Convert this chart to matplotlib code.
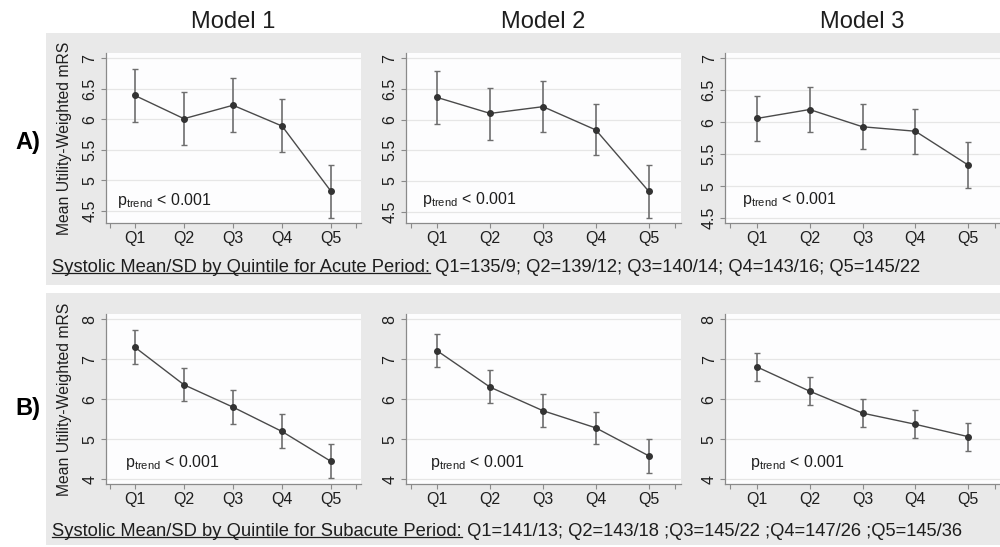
import numpy as np
import matplotlib
matplotlib.use("Agg")
import matplotlib.pyplot as plt
from matplotlib.patches import Rectangle
from matplotlib.lines import Line2D

plt.rcParams['font.family'] = ['Liberation Sans', 'DejaVu Sans']

# Data (mean and 95% CI per systolic BP quintile)
quintiles = ['Q1', 'Q2', 'Q3', 'Q4', 'Q5']
models = ['Model 1', 'Model 2', 'Model 3']

acute_m1_mean = [6.39, 6.01, 6.23, 5.89, 4.82]
acute_m1_lo = [5.95, 5.58, 5.80, 5.46, 4.39]
acute_m1_hi = [6.82, 6.44, 6.67, 6.33, 5.26]
acute_m2_mean = [6.36, 6.10, 6.21, 5.83, 4.83]
acute_m2_lo = [5.93, 5.67, 5.79, 5.42, 4.40]
acute_m2_hi = [6.79, 6.51, 6.63, 6.26, 5.26]
acute_m3_mean = [6.06, 6.20, 5.93, 5.86, 5.33]
acute_m3_lo = [5.70, 5.85, 5.58, 5.51, 4.97]
acute_m3_hi = [6.41, 6.55, 6.28, 6.21, 5.69]

sub_m1_mean = [7.30, 6.36, 5.80, 5.19, 4.44]
sub_m1_lo = [6.87, 5.95, 5.37, 4.77, 4.02]
sub_m1_hi = [7.72, 6.79, 6.22, 5.62, 4.87]
sub_m2_mean = [7.21, 6.30, 5.71, 5.28, 4.58]
sub_m2_lo = [6.80, 5.90, 5.30, 4.87, 4.16]
sub_m2_hi = [7.62, 6.72, 6.12, 5.69, 4.99]
sub_m3_mean = [6.81, 6.20, 5.65, 5.37, 5.06]
sub_m3_lo = [6.46, 5.85, 5.30, 5.02, 4.69]
sub_m3_hi = [7.16, 6.56, 6.00, 5.72, 5.41]

acute_yticks = [4.5, 5, 5.5, 6, 6.5, 7]
acute_yticklabels = ['4.5', '5', '5.5', '6', '6.5', '7']
sub_yticks = [4, 5, 6, 7, 8]
sub_yticklabels = ['4', '5', '6', '7', '8']

p_label = 'p$_{\\mathregular{trend}}$ < 0.001'
acute_caption_head = 'Systolic Mean/SD by Quintile for Acute Period:'
acute_caption_tail = ' Q1=135/9; Q2=139/12; Q3=140/14; Q4=143/16; Q5=145/22'
sub_caption_head = 'Systolic Mean/SD by Quintile for Subacute Period:'
sub_caption_tail = ' Q1=141/13; Q2=143/18 ;Q3=145/22 ;Q4=147/26 ;Q5=145/36'

W, H = 1000, 547
GRAY_BG = '#e9e9e9'
TXT = '#1e1e1e'


def px_rect(x0, y0, x1, y1):
    # pixel box (top-left origin) -> figure fraction [left, bottom, width, height]
    return [x0 / W, 1 - y1 / H, (x1 - x0) / W, (y1 - y0) / H]


def draw_panel(ax, mean, lo, hi, yticks, yticklabels, ylim, ptxt_xy):
    x = np.arange(1, len(quintiles) + 1)
    mean = np.array(mean)
    yerr = [mean - np.array(lo), np.array(hi) - mean]
    ax.set_zorder(2)
    ax.set_facecolor('#fdfdfe')
    for y in yticks:
        ax.axhline(y, color='#e6e6e6', lw=0.9, zorder=0)
    ax.errorbar(x, mean, yerr=yerr, fmt='none', ecolor='#6e6e6e',
                elinewidth=1.2, capsize=2.5, capthick=1.0, zorder=2)
    ax.plot(x, mean, '-', color='#4a4a4a', lw=1.0, zorder=3)
    ax.plot(x, mean, 'o', color='#333333', ms=4.0, zorder=4)
    ax.set_xlim(0.4, 5.6)
    ax.set_ylim(*ylim)
    ax.set_xticks([0.5, 1, 2, 3, 4, 5, 5.5])
    ax.set_xticklabels([''] + quintiles + [''], fontsize=11.5, color=TXT)
    ax.set_yticks(yticks)
    ax.set_yticklabels(yticklabels, fontsize=11.5, color=TXT, rotation=90,
                       va='center')
    ax.tick_params(axis='both', length=3.5, width=0.8, color='#8a8a8a', pad=2.5)
    for s in ['top', 'right']:
        ax.spines[s].set_visible(False)
    for s in ['left', 'bottom']:
        ax.spines[s].set_color('#8a8a8a')
        ax.spines[s].set_linewidth(0.9)
    ax.text(ptxt_xy[0], ptxt_xy[1], p_label, fontsize=11.5, color=TXT,
            ha='left', va='center')


fig = plt.figure(figsize=(10, 5.47), dpi=100)
fig.patch.set_facecolor('white')

# gray panel backgrounds
for (x0, y0, x1, y1) in [(46, 33, 1000, 285), (46, 293, 1000, 545)]:
    l, b, w, h = px_rect(x0, y0, x1, y1)
    fig.patches.append(Rectangle((l, b), w, h, transform=fig.transFigure,
                                 facecolor=GRAY_BG, edgecolor='none', zorder=-1))

cols = [(105.5, 360.5), (405.5, 680.5), (725, 1000)]
row_a = (53.3, 222.6)
row_b = (314.3, 484)

acute = [(acute_m1_mean, acute_m1_lo, acute_m1_hi, (4.31, 7.08), (0.63, 4.67)),
         (acute_m2_mean, acute_m2_lo, acute_m2_hi, (4.32, 7.08), (0.71, 4.69)),
         (acute_m3_mean, acute_m3_lo, acute_m3_hi, (4.43, 7.08), (0.72, 4.79))]
sub = [(sub_m1_mean, sub_m1_lo, sub_m1_hi, (3.875, 8.125), (0.79, 4.41)),
       (sub_m2_mean, sub_m2_lo, sub_m2_hi, (3.875, 8.125), (0.87, 4.41)),
       (sub_m3_mean, sub_m3_lo, sub_m3_hi, (3.875, 8.125), (0.87, 4.41))]

for i, (x0, x1) in enumerate(cols):
    ax = fig.add_axes(px_rect(x0, row_a[0], x1, row_a[1]))
    m, lo, hi, yl, pxy = acute[i]
    draw_panel(ax, m, lo, hi, acute_yticks, acute_yticklabels, yl, pxy)
    if i == 0:
        ax.set_ylabel('Mean Utility-Weighted mRS', fontsize=11.3, color=TXT,
                      labelpad=7)
    fig.text((x0 + x1) / 2 / W, 1 - 22 / H,
             models[i], fontsize=17, color=TXT, ha='center', va='center')

    ax = fig.add_axes(px_rect(x0, row_b[0], x1, row_b[1]))
    m, lo, hi, yl, pxy = sub[i]
    draw_panel(ax, m, lo, hi, sub_yticks, sub_yticklabels, yl, pxy)
    if i == 0:
        ax.set_ylabel('Mean Utility-Weighted mRS', fontsize=11.3, color=TXT,
                      labelpad=7)

fig.text(28 / W, 1 - 143 / H, 'A)', fontsize=17, fontweight='bold',
         color='black', ha='center', va='center')
fig.text(28 / W, 1 - 408 / H, 'B)', fontsize=17, fontweight='bold',
         color='black', ha='center', va='center')

# captions with underlined heading
fig.canvas.draw()
renderer = fig.canvas.get_renderer()
for head, tail, ypx in [(acute_caption_head, acute_caption_tail, 267),
                        (sub_caption_head, sub_caption_tail, 531)]:
    t1 = fig.text(52 / W, 1 - ypx / H, head, fontsize=13.2, color=TXT,
                  ha='left', va='center')
    bb = t1.get_window_extent(renderer=renderer)
    x_end = bb.x1 / W
    y_line = (bb.y0 + 2.5) / H
    fig.add_artist(Line2D([bb.x0 / W, x_end], [y_line, y_line],
                          transform=fig.transFigure, color=TXT, lw=0.9))
    fig.text(x_end, 1 - ypx / H, tail, fontsize=13.2, color=TXT,
             ha='left', va='center')

fig.savefig('out.png', dpi=100)
